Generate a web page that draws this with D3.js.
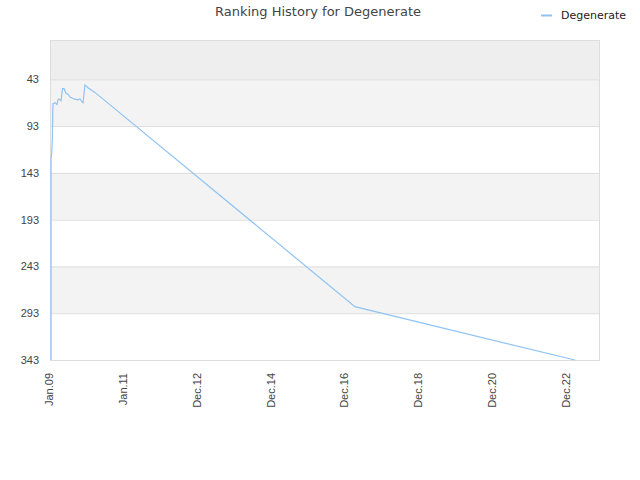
<!DOCTYPE html>
<html><head><meta charset="utf-8">
<script src="https://cdn.jsdelivr.net/npm/d3@7"></script>
<style>body{margin:0;background:#fff;}svg{font-family:"DejaVu Sans",sans-serif;}</style>
</head><body><svg id="c" width="640" height="480"></svg>
<script>
const dates = ["2009-01-11","2009-01-11","2009-01-17","2009-01-24","2009-01-28","2009-01-31","2009-02-20","2009-03-11","2009-03-21","2009-03-31","2009-04-20","2009-05-05","2009-05-20","2009-06-08","2009-06-28","2009-07-18","2009-08-27","2009-10-05","2009-10-25","2009-11-14","2009-11-24","2009-12-13","2010-01-12","2010-03-22","2017-04-07","2023-03-25"];
const ranks = [343,127,124,108,78,69,68,70,65,64,66,53,53,58,59,62,64,65,64,67,68,49,52,57,286,343];
const yTicks = [43,93,143,193,243,293,343];
const xTickLabels = ["Jan.09","Jan.11","Dec.12","Dec.14","Dec.16","Dec.18","Dec.20","Dec.22"];
const seriesName = "Degenerate";

const svg = d3.select("#c");
const L=50,R=600,T=40,B=360;
const parse = d3.utcParse("%Y-%m-%d");
const t0 = parse("2009-01-01");
const dayMs = 864e5;
const x = d3.scaleUtc().domain([t0, new Date(+t0 + 5444*dayMs)]).range([L,R]);
const y = d3.scaleLinear().domain([1,343]).range([T,B]);

// bands
const edges = [1].concat(yTicks);
for(let i=0;i<edges.length-1;i++){
  const fill = i===0 ? "#eeeeee" : (i%2===1 ? "#f3f3f3" : "#ffffff");
  svg.append("rect").attr("x",L).attr("width",R-L)
    .attr("y",y(edges[i])).attr("height",y(edges[i+1])-y(edges[i])).attr("fill",fill);
}
// grid lines
svg.append("g").selectAll("line").data(yTicks).join("line")
  .attr("x1",L).attr("x2",R).attr("y1",d=>y(d)+0.5).attr("y2",d=>y(d)+0.5)
  .attr("stroke","#dddddd");
svg.append("rect").attr("x",L+0.5).attr("y",T+0.5).attr("width",R-L-1).attr("height",B-T)
  .attr("fill","none").attr("stroke","#dddddd");

// y axis
const ya = svg.append("g").attr("transform",`translate(${L},0)`)
  .call(d3.axisLeft(y).tickValues(yTicks).tickSize(0).tickPadding(11));
ya.select(".domain").remove();
ya.selectAll("text").attr("fill","#444").style("font-size","11px");

// x axis
const xTickDates = xTickLabels.map((s,i)=>new Date(+t0 + i*730*dayMs));
const xa = svg.append("g").attr("transform",`translate(0,${B})`)
  .call(d3.axisBottom(x).tickValues(xTickDates).tickSize(0).tickFormat((d,i)=>xTickLabels[i]));
xa.select(".domain").remove();
xa.selectAll("text").attr("fill","#444").style("font-size","11px")
  .attr("text-anchor","end").attr("transform","rotate(-90)")
  .attr("x",-13).attr("y",-1).attr("dy","0.35em");

// line
const data = dates.map((d,i)=>({d:parse(d), r:ranks[i]}));
svg.append("path").datum(data)
  .attr("fill","none").attr("stroke","#90c3f3").attr("stroke-width",1.2)
  .attr("d", d3.line().x(d=>x(d.d)).y(d=>y(d.r)));

// title
svg.append("text").attr("x",318).attr("y",16).attr("text-anchor","middle")
  .attr("fill","#444").style("font-size","13px").text("Ranking History for " + seriesName);
// legend
svg.append("line").attr("x1",541).attr("x2",552).attr("y1",15.5).attr("y2",15.5)
  .attr("stroke","#90c3f3").attr("stroke-width",2);
svg.append("text").attr("x",561).attr("y",19).attr("fill","#222").style("font-size","11px").text(seriesName);
</script></body></html>
